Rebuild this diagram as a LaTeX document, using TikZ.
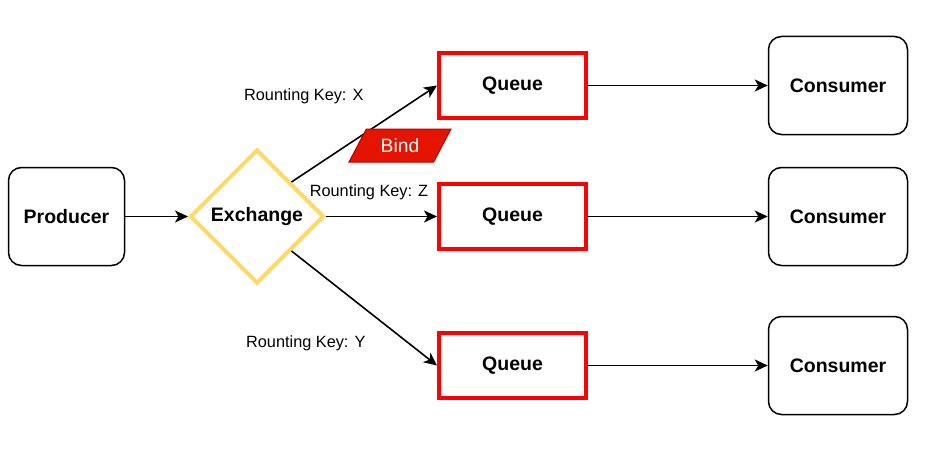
\documentclass[tikz,border=0pt]{standalone}
\usepackage{fontspec}
\setmainfont{Liberation Sans}
\usetikzlibrary{shapes.geometric,arrows.meta,positioning}

\definecolor{queuered}{HTML}{FF0000}
\definecolor{exchyellow}{HTML}{FFD966}
\definecolor{bindfill}{HTML}{E51400}
\definecolor{bindline}{HTML}{B20000}

\tikzset{
    boxnode/.style={draw, line width=1.5pt, rounded corners=13pt, minimum height=98pt,
        font=\fontsize{19.5}{23}\selectfont\bfseries},
    exchnode/.style={diamond, draw=exchyellow, line width=4pt, minimum width=134pt,
        minimum height=134pt, inner sep=0pt, font=\fontsize{19.5}{23}\selectfont\bfseries},
    queuebox/.style={draw=queuered, line width=4pt, minimum width=147pt, minimum height=65pt,
        font=\fontsize{19.5}{23}\selectfont\bfseries},
    keylabel/.style={inner sep=0pt, font=\fontsize{16.3}{19}\selectfont},
    bindbox/.style={trapezium, trapezium left angle=55, trapezium right angle=125,
        trapezium stretches=true, minimum width=102pt, minimum height=33pt, inner sep=0pt,
        draw=bindline, fill=bindfill, line width=1pt, text=white,
        font=\fontsize{19.3}{23}\selectfont},
    flowarrow/.style={draw, line width=1.6pt, -{Stealth[length=13pt,width=12pt,inset=3.5pt]}}
}

\begin{document}
\begin{tikzpicture}[x=1pt, y=1pt, grow'=right,
        edge from parent/.style={flowarrow},
        level 3/.style={edge from parent path={(\tikzparentnode\tikzparentanchor) -- (\tikzchildnode\tikzchildanchor)}}]
        \useasboundingbox (0,0) rectangle (932,-452);
        \node[boxnode, minimum width=116pt] (prod) at (66.5,-216.5) {Producer} [level distance=190.5pt]
            child{
                node[exchnode] (exch) {Exchange}[level distance=255.5pt, sibling distance=140pt]
                child[yshift=-9pt, edge from parent path={(\tikzparentnode.north east) -- (\tikzchildnode.west)}]{
                    node[queuebox] (q1) {Queue}[level distance=325.5pt]
                    child{node[boxnode, minimum width=139pt] (cons1) {Consumer}}
                    edge from parent node[keylabel, above left=29pt and 0pt] {Rounting Key: X}
                }
                child{
                    node[queuebox] (q2) {Queue}[level distance=325.5pt]
                    child{node[boxnode, minimum width=139pt] (cons2) {Consumer}}
                    edge from parent node[keylabel, above=15.5pt, xshift=-12.5pt] {Rounting Key: Z}
                }
                child[yshift=-9pt, edge from parent path={(\tikzparentnode.south east) -- (\tikzchildnode.west)}]{
                    node[queuebox] (q3) {Queue}[level distance=325.5pt]
                    child{node[boxnode, minimum width=139pt] (cons3) {Consumer}}
                    edge from parent node[keylabel, below left=26.5pt and -2pt] {Rounting Key: Y}
                }
            };
        \node[bindbox] (bind) at (400,-145.5) {Bind};
        \end{tikzpicture}
\end{document}
